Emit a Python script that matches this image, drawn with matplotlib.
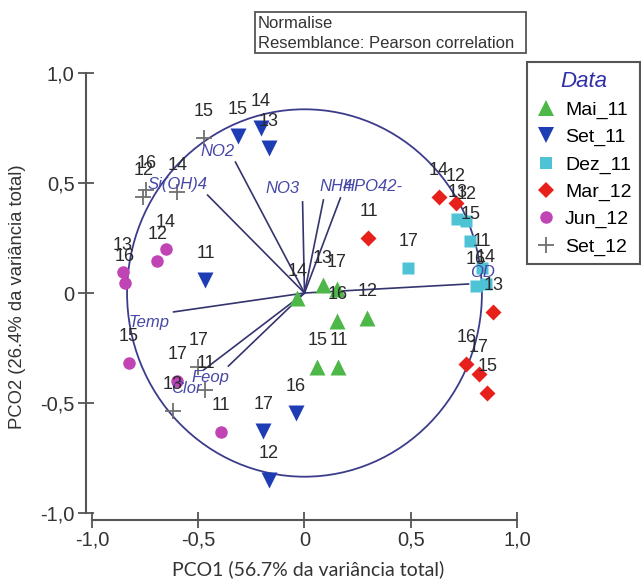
import numpy as np
import matplotlib
matplotlib.use("Agg")
import matplotlib.pyplot as plt
from matplotlib.patches import Ellipse, Rectangle
from matplotlib.lines import Line2D

plt.rcParams['font.family'] = ['Liberation Sans', 'DejaVu Sans']

# sample scores on PCO1 / PCO2, label = sample number
mai11_x = [-0.033, 0.085, 0.151, 0.155, 0.296, 0.061, 0.160]
mai11_y = [-0.023, 0.036, 0.018, -0.127, -0.114, -0.336, -0.336]
mai11_lab = ["14", "13", "17", "16", "12", "15", "11"]

set11_x = [-0.315, -0.207, -0.169, -0.466, -0.042, -0.193, -0.169]
set11_y = [0.714, 0.750, 0.659, 0.059, -0.545, -0.627, -0.850]
set11_lab = ["15", "14", "13", "11", "16", "17", "12"]

dez11_x = [0.489, 0.720, 0.762, 0.781, 0.833, 0.805, 0.852]
dez11_y = [0.114, 0.336, 0.327, 0.236, 0.114, 0.032, 0.041]
dez11_lab = ["17", "13", "12", "15", "11", "16", "14"]

mar12_x = [0.631, 0.711, 0.301, 0.889, 0.762, 0.819, 0.861]
mar12_y = [0.436, 0.409, 0.250, -0.086, -0.323, -0.368, -0.455]
mar12_lab = ["14", "12", "11", "13", "16", "17", "15"]

jun12_x = [-0.654, -0.692, -0.856, -0.847, -0.828, -0.598, -0.395]
jun12_y = [0.200, 0.145, 0.095, 0.045, -0.318, -0.400, -0.632]
jun12_lab = ["14", "12", "13", "16", "15", "17", "11"]

set12_x = [-0.475, -0.744, -0.758, -0.598, -0.499, -0.466, -0.621]
set12_y = [0.705, 0.468, 0.436, 0.459, -0.336, -0.441, -0.536]
set12_lab = ["15", "16", "12", "14", "17", "11", "13"]

# environmental vectors (end points) and where their names sit
vec_names = ["NO2", "Si(OH)4", "NO3", "NH4", "HPO42-", "OD", "Temp", "Feop", "Clor"]
vec_x = [-0.325, -0.456, -0.009, 0.089, 0.169, 0.772, -0.616, -0.475, -0.358]
vec_y = [0.595, 0.445, 0.414, 0.423, 0.432, 0.041, -0.086, -0.350, -0.332]
vlab_x = [-0.409, -0.598, -0.104, 0.150, 0.320, 0.838, -0.734, -0.442, -0.555]
vlab_y = [0.641, 0.491, 0.473, 0.482, 0.482, 0.095, -0.136, -0.382, -0.432]
circle_r = 0.835

groups = [
    ("Mai_11", mai11_x, mai11_y, mai11_lab, '^', '#4db848', 11),
    ("Set_11", set11_x, set11_y, set11_lab, 'v', '#1e3cb4', 11),
    ("Dez_11", dez11_x, dez11_y, dez11_lab, 's', '#4fc3d6', 9),
    ("Mar_12", mar12_x, mar12_y, mar12_lab, 'D', '#e8201c', 8),
    ("Jun_12", jun12_x, jun12_y, jun12_lab, 'o', '#c044b4', 9),
    ("Set_12", set12_x, set12_y, set12_lab, '+', '#707070', 12),
]

fig = plt.figure(figsize=(6.41, 5.81), dpi=100)
ax = fig.add_axes([0.11037, 0.07917, 0.72933, 0.83305])
ax.set_xlim(-1.1, 1.1)
ax.set_ylim(-1.1, 1.1)

ax.add_patch(Ellipse((0, 0), 2 * circle_r, 2 * circle_r, fill=False,
                     edgecolor='#3c3c8c', lw=1.3, zorder=2))
for i in range(len(vec_names)):
    ax.plot([0, vec_x[i]], [0, vec_y[i]], color='#34346e', lw=1.2, zorder=2)
    ax.text(vlab_x[i], vlab_y[i], vec_names[i], fontsize=12, style='italic',
            color='#4848a8', ha='center', va='center', zorder=5)

handles = []
for name, xs, ys, labs, mk, col, ms in groups:
    if mk == '+':
        ax.plot(xs, ys, ls='none', marker=mk, ms=ms, mew=1.3, color=col, zorder=3)
    else:
        ax.plot(xs, ys, ls='none', marker=mk, ms=ms, color=col, mec='none', zorder=3)
    for x, y, t in zip(xs, ys, labs):
        ax.annotate(t, (x, y), xytext=(0, 19), textcoords='offset points',
                    ha='center', va='center', fontsize=13, color='#2a2a2a', zorder=6)
    handles.append(Line2D([], [], ls='none', marker=mk, ms=ms, color=col,
                          mec=col if mk == '+' else 'none', mew=1.3, label=name))

for s in ['top', 'right']:
    ax.spines[s].set_visible(False)
ax.spines['left'].set_position(('data', -1.03))
ax.spines['bottom'].set_position(('data', -1.03))
ax.spines['left'].set_bounds(-1, 1)
ax.spines['bottom'].set_bounds(-1, 1)
for s in ['left', 'bottom']:
    ax.spines[s].set_color('#555555')
    ax.spines[s].set_linewidth(1.5)

ticks = [-1.0, -0.5, 0, 0.5, 1.0]
tick_labels = ["-1,0", "-0,5", "0", "0,5", "1,0"]
ax.set_xticks(ticks)
ax.set_xticklabels(tick_labels)
ax.set_yticks(ticks)
ax.set_yticklabels(tick_labels)
ax.tick_params(direction='inout', length=12, width=1.3, color='#555555',
               labelsize=14.5, labelcolor='#333333', pad=2)

fig.text(308 / 641, 1 - 569 / 581, "PCO1 (56.7% da variância total)",
         family=['Lato', 'DejaVu Sans'], fontsize=14, color='#333333',
         ha='center', va='center')
fig.text(18 / 641, 1 - 297 / 581, "PCO2 (26.4% da variância total)",
         fontsize=13.3, color='#333333', rotation=90, ha='center', va='center')

# info box at the top
fig.patches.append(Rectangle((255 / 641, 1 - 53 / 581), 271 / 641, 41 / 581,
                             transform=fig.transFigure, fill=False,
                             edgecolor='#555555', lw=1.3))
fig.text(258 / 641, 1 - 23 / 581, "Normalise", fontsize=12, color='#333333', va='center')
fig.text(258 / 641, 1 - 43 / 581, "Resemblance: Pearson correlation", fontsize=12,
         color='#333333', va='center')

leg = ax.legend(handles=handles, title="Data", loc='upper left',
                bbox_to_anchor=(527 / 641, 1 - 62 / 581), bbox_transform=fig.transFigure,
                borderaxespad=0, fancybox=False, framealpha=1, edgecolor='#555555',
                fontsize=14, handlelength=1.1, handletextpad=0.4, labelspacing=0.49,
                borderpad=0.45)
leg.get_frame().set_linewidth(1.5)
leg.get_title().set_fontsize(16)
leg.get_title().set_style('italic')
leg.get_title().set_color('#2f2fa8')

fig.savefig("out.png", dpi=100)
